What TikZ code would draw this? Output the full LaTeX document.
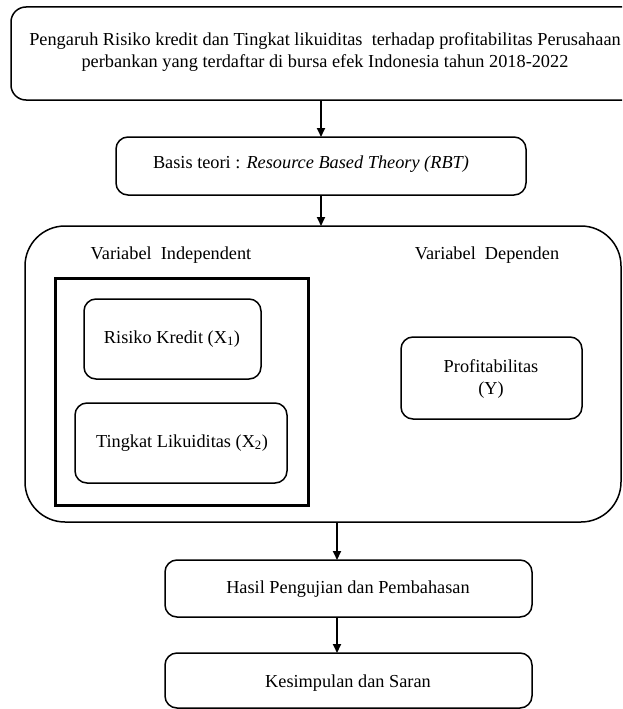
\documentclass[tikz,border=0pt]{standalone}
\usepackage{fontspec}
\setmainfont{Liberation Serif}
\usetikzlibrary{arrows.meta}
\begin{document}
\begin{tikzpicture}[x=1pt,y=-1pt,
  box/.style={draw, line width=1.5pt, rounded corners=12pt, inner sep=0pt, outer sep=0pt, anchor=north west},
  sqbox/.style={draw, line width=3pt, inner sep=0pt, outer sep=0pt, anchor=north west},
  lbl/.style={font=\fontsize{18.3}{21.5}\selectfont, align=center, inner sep=0pt},
  arr/.style={-{Triangle[length=9pt,width=8pt]}, line width=2pt}]
\useasboundingbox (0,0) rectangle (622,709);
\fill[white] (0,0) rectangle (622,709);
\begin{scope}
\clip (0,0) rectangle (622,709);
% boxes
\node[box, rounded corners=15pt, minimum width=629pt, minimum height=93pt] (top) at (11,7) {};
\node[box, minimum width=410pt, minimum height=58pt] (basis) at (116,137) {};
\node[box, rounded corners=40pt, minimum width=596pt, minimum height=296pt] (big) at (25,226) {};
\node[sqbox, minimum width=253pt, minimum height=227pt] (sq) at (55,278) {};
\node[box, minimum width=177pt, minimum height=80pt] (risk) at (84,299) {};
\node[box, minimum width=212pt, minimum height=80pt] (liq) at (75,403) {};
\node[box, minimum width=181pt, minimum height=82pt] (prof) at (401,337) {};
\node[box, minimum width=367pt, minimum height=57pt] (hasil) at (165,560) {};
\node[box, minimum width=367pt, minimum height=55pt] (kes) at (165,653) {};
% texts
\node[lbl] (ttop) at (325,52) {Pengaruh Risiko kredit dan Tingkat likuiditas~ terhadap profitabilitas Perusahaan\\perbankan yang terdaftar di bursa efek Indonesia tahun 2018-2022};
\node[lbl] (tbasis) at (311,164) {Basis teori : \textit{Resource Based Theory (RBT)}};
\node[lbl] (tind) at (171,255) {Variabel~ Independent};
\node[lbl] (tdep) at (487,255) {Variabel~ Dependen};
\node[lbl] (trisk) at (172,339) {Risiko Kredit (X\textsubscript{1})};
\node[lbl] (tliq) at (182,443) {Tingkat Likuiditas (X\textsubscript{2})};
\node[lbl] (tprof) at (491,379) {Profitabilitas\\(Y)};
\node[lbl] (thasil) at (348,589) {Hasil Pengujian dan Pembahasan};
\node[lbl] (tkes) at (348,683) {Kesimpulan dan Saran};
% arrows
\coordinate (c1) at (321,0);
\coordinate (c2) at (337,0);
\draw[arr] (top.south -| c1) -- (basis.north -| c1);
\draw[arr] (basis.south -| c1) -- (big.north -| c1);
\draw[arr] (big.south -| c2) -- (hasil.north -| c2);
\draw[arr] (hasil.south -| c2) -- (kes.north -| c2);
\end{scope}
\end{tikzpicture}
\end{document}
